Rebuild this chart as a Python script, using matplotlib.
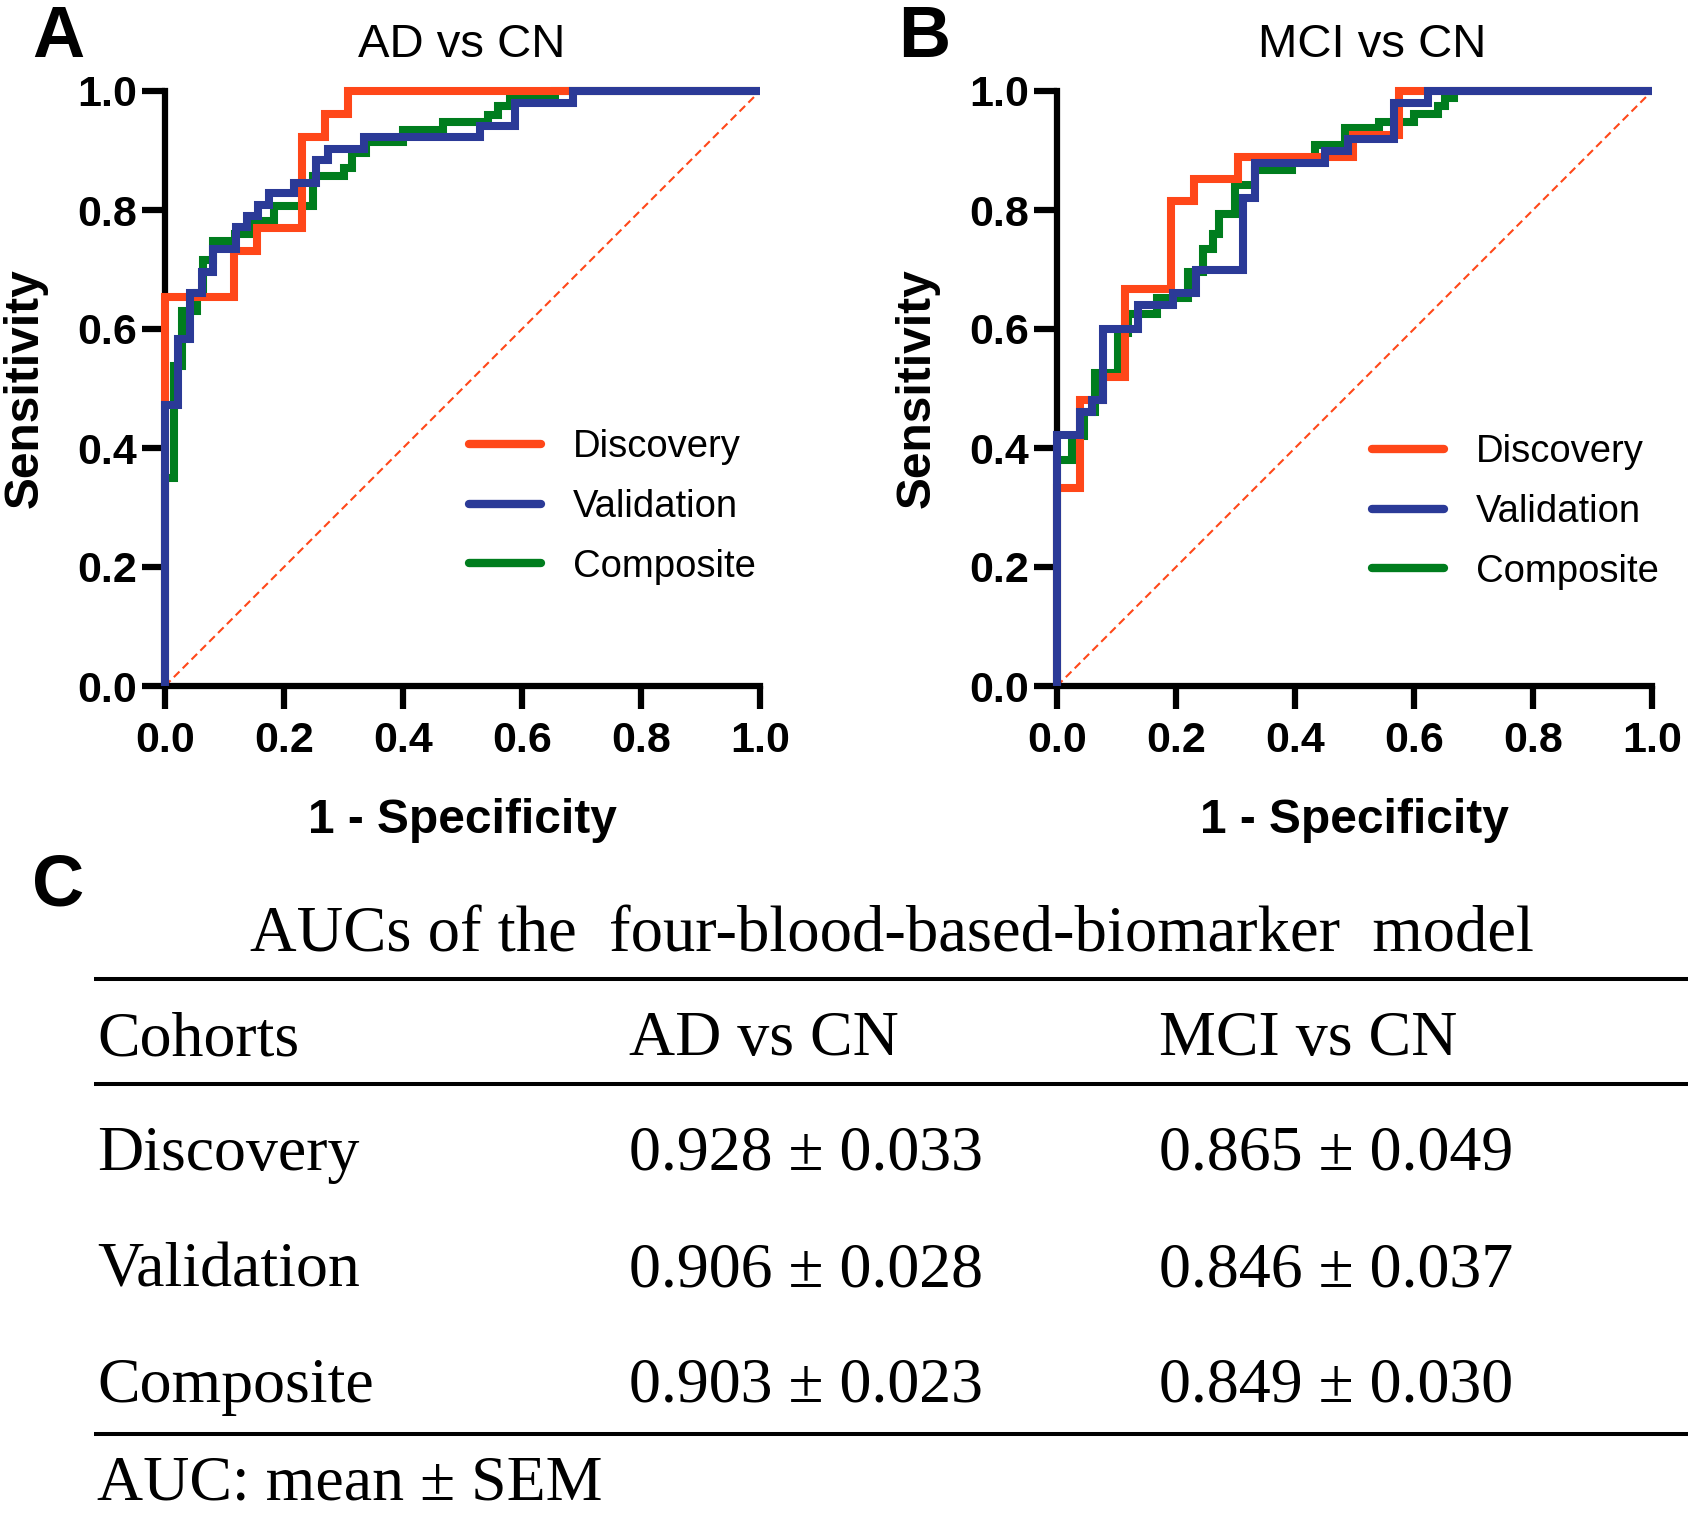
import matplotlib.pyplot as plt

# ROC step points (fpr, tpr)
ad_disc_fpr = [0, 0, 0.116, 0.154, 0.231, 0.269, 0.308, 1.0]
ad_disc_tpr = [0, 0.654, 0.731, 0.769, 0.923, 0.962, 1.0, 1.0]
ad_val_fpr = [0, 0, 0.022, 0.042, 0.062, 0.080, 0.119, 0.138, 0.157, 0.175, 0.216,
              0.254, 0.274, 0.334, 0.529, 0.588, 0.685, 1.0]
ad_val_tpr = [0, 0.472, 0.583, 0.660, 0.696, 0.734, 0.772, 0.790, 0.809, 0.828, 0.846,
              0.884, 0.9025, 0.923, 0.941, 0.979, 1.0, 1.0]
ad_comp_fpr = [0, 0, 0.015, 0.029, 0.054, 0.064, 0.08, 0.118, 0.146, 0.183, 0.248,
               0.300, 0.314, 0.338, 0.40, 0.467, 0.543, 0.56, 0.58, 0.655, 1.0]
ad_comp_tpr = [0, 0.349, 0.537, 0.631, 0.66, 0.716, 0.748, 0.760, 0.782, 0.806, 0.857,
               0.871, 0.895, 0.915, 0.935, 0.948, 0.960, 0.974, 0.988, 1.0, 1.0]

mci_disc_fpr = [0, 0, 0.038, 0.077, 0.115, 0.192, 0.230, 0.305, 0.497, 0.575, 1.0]
mci_disc_tpr = [0, 0.333, 0.481, 0.519, 0.667, 0.815, 0.852, 0.889, 0.926, 1.0, 1.0]
mci_val_fpr = [0, 0, 0.038, 0.058, 0.078, 0.136, 0.195, 0.234, 0.313, 0.333, 0.45,
               0.489, 0.566, 0.624, 1.0]
mci_val_tpr = [0, 0.422, 0.461, 0.481, 0.60, 0.640, 0.661, 0.700, 0.82, 0.879, 0.899,
               0.920, 0.980, 1.0, 1.0]
mci_comp_fpr = [0, 0, 0.025, 0.045, 0.0645, 0.1025, 0.12, 0.168, 0.221, 0.246, 0.262,
                0.272, 0.299, 0.333, 0.395, 0.433, 0.484, 0.542, 0.60, 0.64, 0.652,
                0.668, 1.0]
mci_comp_tpr = [0, 0.38, 0.42, 0.46, 0.526, 0.593, 0.625, 0.652, 0.696, 0.735, 0.760,
                0.794, 0.842, 0.868, 0.888, 0.909, 0.937, 0.948, 0.961, 0.975, 0.988,
                1.0, 1.0]

cohorts = ['Discovery', 'Validation', 'Composite']
comparisons = ['AD vs CN', 'MCI vs CN']
auc_mean = {'AD vs CN': [0.928, 0.906, 0.903], 'MCI vs CN': [0.865, 0.846, 0.849]}
auc_sem = {'AD vs CN': [0.033, 0.028, 0.023], 'MCI vs CN': [0.049, 0.037, 0.030]}
ticks = [0.0, 0.2, 0.4, 0.6, 0.8, 1.0]

colors = {'Discovery': '#FF4719', 'Validation': '#2B3A97', 'Composite': '#007D1E'}

W, H = 1691, 1513
plt.rcParams['font.family'] = ['Liberation Sans', 'DejaVu Sans']

fig = plt.figure(figsize=(W / 100, H / 100), dpi=100)


def fx(px):
    return px / W


def fy(py):
    return 1 - py / H


panels = [
    (165, 32, 'A', 'AD vs CN', 462,
     {'Composite': (ad_comp_fpr, ad_comp_tpr), 'Discovery': (ad_disc_fpr, ad_disc_tpr),
      'Validation': (ad_val_fpr, ad_val_tpr)}, (469, 507)),
    (1057, 898, 'B', 'MCI vs CN', 1372,
     {'Composite': (mci_comp_fpr, mci_comp_tpr), 'Discovery': (mci_disc_fpr, mci_disc_tpr),
      'Validation': (mci_val_fpr, mci_val_tpr)}, (1372, 512)),
]

for left, letter_x, letter, title, title_x, curves, leg_pos in panels:
    ax = fig.add_axes([fx(left), fy(686), 595 / W, 595 / H])
    ax.plot([0, 1], [0, 1], color=colors['Discovery'], lw=1.5, dashes=(3.8, 2.2), zorder=1)
    handles = {}
    for name in ['Composite', 'Discovery', 'Validation']:
        x, y = curves[name]
        h, = ax.step(x, y, where='post', color=colors[name], lw=5.8, clip_on=False,
                     solid_joinstyle='miter', solid_capstyle='butt', zorder=3, label=name)
        handles[name] = h
    ax.set_xlim(0, 1)
    ax.set_ylim(0, 1)
    for s in ['top', 'right']:
        ax.spines[s].set_visible(False)
    for s in ['left', 'bottom']:
        ax.spines[s].set_linewidth(4.5)
    ax.set_xticks(ticks)
    ax.set_yticks(ticks)
    ax.set_xticklabels([f'{t:.1f}' for t in ticks], fontweight='bold')
    ax.set_yticklabels([f'{t:.1f}' for t in ticks], fontweight='bold')
    ax.tick_params(length=16.5, width=4.5, labelsize=31, direction='out')
    ax.tick_params(axis='y', pad=3.6)
    ax.tick_params(axis='x', pad=9)
    leg = ax.legend([handles[n] for n in cohorts], cohorts, loc='center left',
                    bbox_to_anchor=(fx(leg_pos[0]), fy(leg_pos[1])),
                    bbox_transform=fig.transFigure, frameon=False, fontsize=27.5,
                    handlelength=1.88, handletextpad=0.84, labelspacing=0.62,
                    borderpad=0, borderaxespad=0)
    for line in leg.get_lines():
        line.set_linewidth(6)
        line.set_solid_capstyle('round')

    fig.text(fx(letter_x), fy(57), letter, fontsize=52, fontweight='bold',
             ha='left', va='baseline')
    fig.text(fx(title_x), fy(57), title, fontsize=34, ha='center', va='baseline')
    fig.text(fx(left + 297.5), fy(833), '1 - Specificity', fontsize=34.5,
             fontweight='bold', ha='center', va='baseline')
    fig.text(fx(left - 127), fy(388.5), 'Sensitivity', fontsize=34.5, fontweight='bold',
             rotation=90, rotation_mode='anchor', ha='center', va='baseline')

# Panel C: table
fig.text(fx(32), fy(906), 'C', fontsize=52, fontweight='bold', ha='left', va='baseline')
tab = fig.add_axes([0, 0, 1, 1], zorder=-1)
tab.set_xlim(0, W)
tab.set_ylim(H, 0)
tab.axis('off')
serif = 'Liberation Serif'
tab.text(892, 951.7, 'AUCs of the  four-blood-based-biomarker  model', fontsize=46.5,
         family=serif, ha='center', va='baseline')
for yy in [979, 1084, 1434]:
    tab.plot([94, 1688], [yy, yy], color='black', lw=2.9, solid_capstyle='butt')

col_x = [97, 629, 1159]
tab.text(col_x[0], 1055, 'Cohorts', fontsize=46, family=serif, va='baseline')
for cx, comp in zip(col_x[1:], comparisons):
    tab.text(cx, 1055, comp, fontsize=46, family=serif, va='baseline')
row_y = [1170, 1286.7, 1401.7]
for i, (ry, name) in enumerate(zip(row_y, cohorts)):
    tab.text(col_x[0], ry, name, fontsize=46, family=serif, va='baseline')
    for cx, comp in zip(col_x[1:], comparisons):
        tab.text(cx, ry, f'{auc_mean[comp][i]:.3f} \u00b1 {auc_sem[comp][i]:.3f}',
                 fontsize=46, family=serif, va='baseline')
tab.text(col_x[0], 1499, 'AUC: mean \u00b1 SEM', fontsize=46, family=serif, va='baseline')

fig.savefig('out.png', dpi=100)
